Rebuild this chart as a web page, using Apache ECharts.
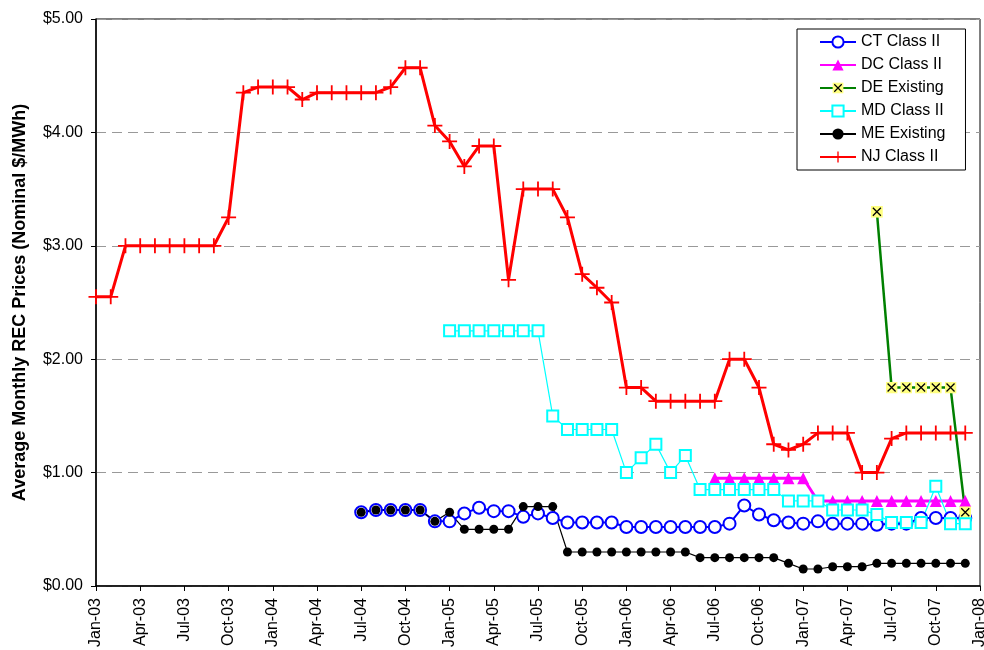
<!DOCTYPE html>
<html>
<head>
<meta charset="utf-8">
<script src="https://cdn.jsdelivr.net/npm/echarts@6/dist/echarts.min.js"></script>
<style>
html,body{margin:0;padding:0;background:#fff;}
#chart{width:984px;height:650px;}
</style>
</head>
<body>
<div id="chart"></div>
<script>
// Monthly categories, Jan-03 .. Jan-08
var categories = [
 'Jan-03','Feb-03','Mar-03','Apr-03','May-03','Jun-03','Jul-03','Aug-03','Sep-03','Oct-03','Nov-03','Dec-03',
 'Jan-04','Feb-04','Mar-04','Apr-04','May-04','Jun-04','Jul-04','Aug-04','Sep-04','Oct-04','Nov-04','Dec-04',
 'Jan-05','Feb-05','Mar-05','Apr-05','May-05','Jun-05','Jul-05','Aug-05','Sep-05','Oct-05','Nov-05','Dec-05',
 'Jan-06','Feb-06','Mar-06','Apr-06','May-06','Jun-06','Jul-06','Aug-06','Sep-06','Oct-06','Nov-06','Dec-06',
 'Jan-07','Feb-07','Mar-07','Apr-07','May-07','Jun-07','Jul-07','Aug-07','Sep-07','Oct-07','Nov-07','Dec-07',
 'Jan-08'
];
var yTicks = [0, 1, 2, 3, 4, 5];

// Each series: first month with data and its monthly values
var ctStart = 'Jul-04';
var ctValues = [0.65,0.67,0.67,0.67,0.67,0.57,
  0.57,0.64,0.69,0.66,0.66,0.61,0.64,0.60,0.56,0.56,0.56,0.56,
  0.52,0.52,0.52,0.52,0.52,0.52,0.52,0.55,0.71,0.63,0.58,0.56,
  0.55,0.57,0.55,0.55,0.55,0.54,0.55,0.55,0.60,0.60,0.60,0.60];

var dcStart = 'Jul-06';
var dcValues = [0.95,0.95,0.95,0.95,0.95,0.95,
  0.95,0.75,0.75,0.75,0.75,0.75,0.75,0.75,0.75,0.75,0.75,0.75];

var deStart = 'Jun-07';
var deValues = [3.30,1.75,1.75,1.75,1.75,1.75,0.65];

var mdStart = 'Jan-05';
var mdValues = [2.25,2.25,2.25,2.25,2.25,2.25,2.25,1.50,1.38,1.38,1.38,1.38,
  1.00,1.13,1.25,1.00,1.15,0.85,0.85,0.85,0.85,0.85,0.85,0.75,
  0.75,0.75,0.67,0.67,0.67,0.63,0.56,0.56,0.56,0.88,0.55,0.55];

var meStart = 'Jul-04';
var meValues = [0.65,0.67,0.67,0.67,0.67,0.57,
  0.65,0.50,0.50,0.50,0.50,0.70,0.70,0.70,0.30,0.30,0.30,0.30,
  0.30,0.30,0.30,0.30,0.30,0.25,0.25,0.25,0.25,0.25,0.25,0.20,
  0.15,0.15,0.17,0.17,0.17,0.20,0.20,0.20,0.20,0.20,0.20,0.20];

var njStart = 'Jan-03';
var njValues = [2.55,2.55,3.00,3.00,3.00,3.00,3.00,3.00,3.00,3.25,4.35,4.40,
  4.40,4.40,4.29,4.35,4.35,4.35,4.35,4.35,4.40,4.57,4.57,4.06,
  3.92,3.70,3.88,3.88,2.70,3.50,3.50,3.50,3.25,2.75,2.63,2.50,
  1.75,1.75,1.63,1.63,1.63,1.63,1.63,2.00,2.00,1.75,1.25,1.20,
  1.25,1.35,1.35,1.35,1.00,1.00,1.30,1.35,1.35,1.35,1.35,1.35];

function align(start, values) {
  var out = categories.map(function(){ return null; });
  var s = categories.indexOf(start);
  for (var i = 0; i < values.length; i++) out[s + i] = values[i];
  return out;
}

var plusPath = 'path://M4.4,0H5.6V4.4H10V5.6H5.6V10H4.4V5.6H0V4.4H4.4Z';
var xSvg = "<svg xmlns='http://www.w3.org/2000/svg' width='24' height='24'>" +
  "<rect x='0' y='0' width='24' height='24' fill='#FFFF80'/>" +
  "<path d='M4,4L20,20M20,4L4,20' stroke='#000' stroke-width='2.6'/></svg>";
var xSymbol = 'image://data:image/svg+xml;charset=utf-8,' + encodeURIComponent(xSvg);

var FONT = '"Liberation Sans", Arial, sans-serif';

var chart = echarts.init(document.getElementById('chart'), null, {renderer: 'canvas'});
chart.setOption({
  animation: false,
  backgroundColor: '#fff',
  textStyle: {fontFamily: FONT},
  grid: {left: 96, right: 4, top: 19, bottom: 64, show: true, borderColor: '#000', borderWidth: 1,
         containLabel: false, outerBoundsMode: 'none'},
  legend: {
    orient: 'vertical',
    left: 797, top: 29,
    backgroundColor: '#fff',
    borderColor: '#000', borderWidth: 1,
    padding: [5, 20, 5, 22],
    itemWidth: 36, itemHeight: 14, itemGap: 7,
    textStyle: {fontSize: 16, color: '#000', fontFamily: FONT, lineHeight: 16},
    data: ['CT Class II','DC Class II','DE Existing','MD Class II','ME Existing','NJ Class II']
  },
  xAxis: {
    type: 'category',
    data: categories,
    boundaryGap: false,
    axisLine: {lineStyle: {color: '#000', width: 1.5}},
    axisTick: {interval: 2, length: 5, lineStyle: {color: '#000'}},
    axisLabel: {interval: 2, rotate: 90, fontSize: 16, color: '#000', margin: 12, fontFamily: FONT},
    splitLine: {show: false}
  },
  yAxis: {
    type: 'value',
    min: yTicks[0], max: yTicks[yTicks.length - 1], interval: 1,
    name: 'Average Monthly REC Prices (Nominal $/MWh)',
    nameLocation: 'middle', nameRotate: 90, nameGap: 67,
    nameTextStyle: {fontSize: 18, fontWeight: 'bold', color: '#000', fontFamily: FONT},
    axisLine: {show: true, lineStyle: {color: '#000', width: 1.5}},
    axisTick: {show: true, length: 5, lineStyle: {color: '#000'}},
    axisLabel: {fontSize: 16, color: '#000', margin: 13, fontFamily: FONT,
      formatter: function(v){ return '$' + v.toFixed(2); }},
    splitLine: {show: true, lineStyle: {color: '#999', type: [10, 6], width: 1}}
  },
  series: [
    {name: 'CT Class II', type: 'line', data: align(ctStart, ctValues),
     symbol: 'emptyCircle', symbolSize: 12, showAllSymbol: true,
     lineStyle: {color: '#0000FF', width: 2},
     itemStyle: {color: '#0000FF', borderWidth: 1.5}},
    {name: 'DC Class II', type: 'line', data: align(dcStart, dcValues),
     symbol: 'triangle', symbolSize: 12, showAllSymbol: true,
     lineStyle: {color: '#FF00FF', width: 3},
     itemStyle: {color: '#FF00FF'}},
    {name: 'DE Existing', type: 'line', data: align(deStart, deValues),
     symbol: xSymbol, symbolSize: 12, showAllSymbol: true,
     lineStyle: {color: '#008000', width: 2.5},
     itemStyle: {color: '#008000'}},
    {name: 'MD Class II', type: 'line', data: align(mdStart, mdValues),
     symbol: 'emptyRect', symbolSize: 11, showAllSymbol: true,
     lineStyle: {color: '#00FFFF', width: 1.2},
     itemStyle: {color: '#00FFFF', borderWidth: 1.5}},
    {name: 'ME Existing', type: 'line', data: align(meStart, meValues),
     symbol: 'circle', symbolSize: 9, showAllSymbol: true,
     lineStyle: {color: '#000', width: 1.2},
     itemStyle: {color: '#000'}},
    {name: 'NJ Class II', type: 'line', data: align(njStart, njValues),
     symbol: plusPath, symbolSize: 15, showAllSymbol: true,
     lineStyle: {color: '#FF0000', width: 3},
     itemStyle: {color: '#FF0000'}}
  ]
});
</script>
</body>
</html>
